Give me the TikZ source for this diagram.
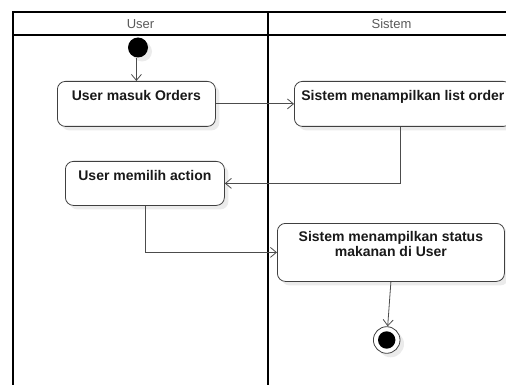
\documentclass[tikz,border=0pt]{standalone}
\usepackage{fontspec}
\setmainfont{Liberation Sans}
\usetikzlibrary{arrows.meta,shadows,calc}
\begin{document}
\begin{tikzpicture}[x=1pt,y=-1pt,
  lane/.style={line width=2pt, draw=black},
  head/.style={font=\fontsize{13}{15}\selectfont, text=black!65, inner sep=0pt},
  actbox/.style={draw=black!75, line width=0.8pt, rounded corners=8pt, fill=white,
     drop shadow={shadow xshift=4pt, shadow yshift=-4pt, fill=black!8, opacity=1},
     anchor=north west, inner sep=0pt},
  acttext/.style={font=\bfseries\fontsize{14}{14.5}\selectfont, text=black!90, align=center, inner sep=0pt},
  onetext/.style={acttext, text height=10pt, text depth=3pt},
  flow/.style={draw=black!70, line width=0.8pt, -{Straight Barb[length=6pt,width=10pt]}}
]
\useasboundingbox (0,0) rectangle (506,385);
% swimlanes
\draw[lane] (13,386) -- (13,12) -- (520,12);
\draw[lane] (13,35) -- (520,35);
\draw[lane] (268,12) -- (268,386);
\node[head] (hu) at (140.5,24) {User};
\node[head] (hs) at (391.5,24) {Sistem};
% start
\node[circle, fill=black, minimum size=20pt, inner sep=0pt,
  drop shadow={shadow xshift=4pt, shadow yshift=-4pt, fill=black!8, opacity=1}] (start) at (138,47.5) {};
% actions
\node[actbox, minimum width=158pt, minimum height=45pt] (a1) at (57,81) {};
\node[onetext] (t1) at ($(a1.north)+(0,16.5)$) {User masuk Orders};
\node[actbox, minimum width=217pt, minimum height=45pt] (a2) at (294,81) {};
\node[onetext] (t2) at ($(a2.north)+(0,16.5)$) {Sistem menampilkan list order};
\node[actbox, minimum width=159pt, minimum height=44pt] (a3) at (65,161) {};
\node[onetext] (t3) at ($(a3.north)+(0,15.5)$) {User memilih action};
\node[actbox, minimum width=227pt, minimum height=58pt] (a4) at (277,223) {};
\node[acttext] (t4) at ($(a4.north)+(0,21)$) {Sistem menampilkan status\\makanan di User};
% end
\node[circle, draw=black!75, line width=0.8pt, fill=white, minimum size=26.6pt, inner sep=0pt,
  drop shadow={shadow xshift=4pt, shadow yshift=-4pt, fill=black!8, opacity=1}] (end) at (386.7,340) {};
\node[circle, fill=black, minimum size=17.4pt, inner sep=0pt] (endin) at (end) {};
% flows
\draw[flow] (start.south -| a1.north) -- (a1.north);
\draw[flow] (a1.east) -- (a2.west);
\draw[flow] ([xshift=-2.5pt]a2.south) |- (a3.east);
\draw[flow] (a3.south) |- (a4.west);
\draw[flow] (a4.south) -- (end);
\end{tikzpicture}
\end{document}
